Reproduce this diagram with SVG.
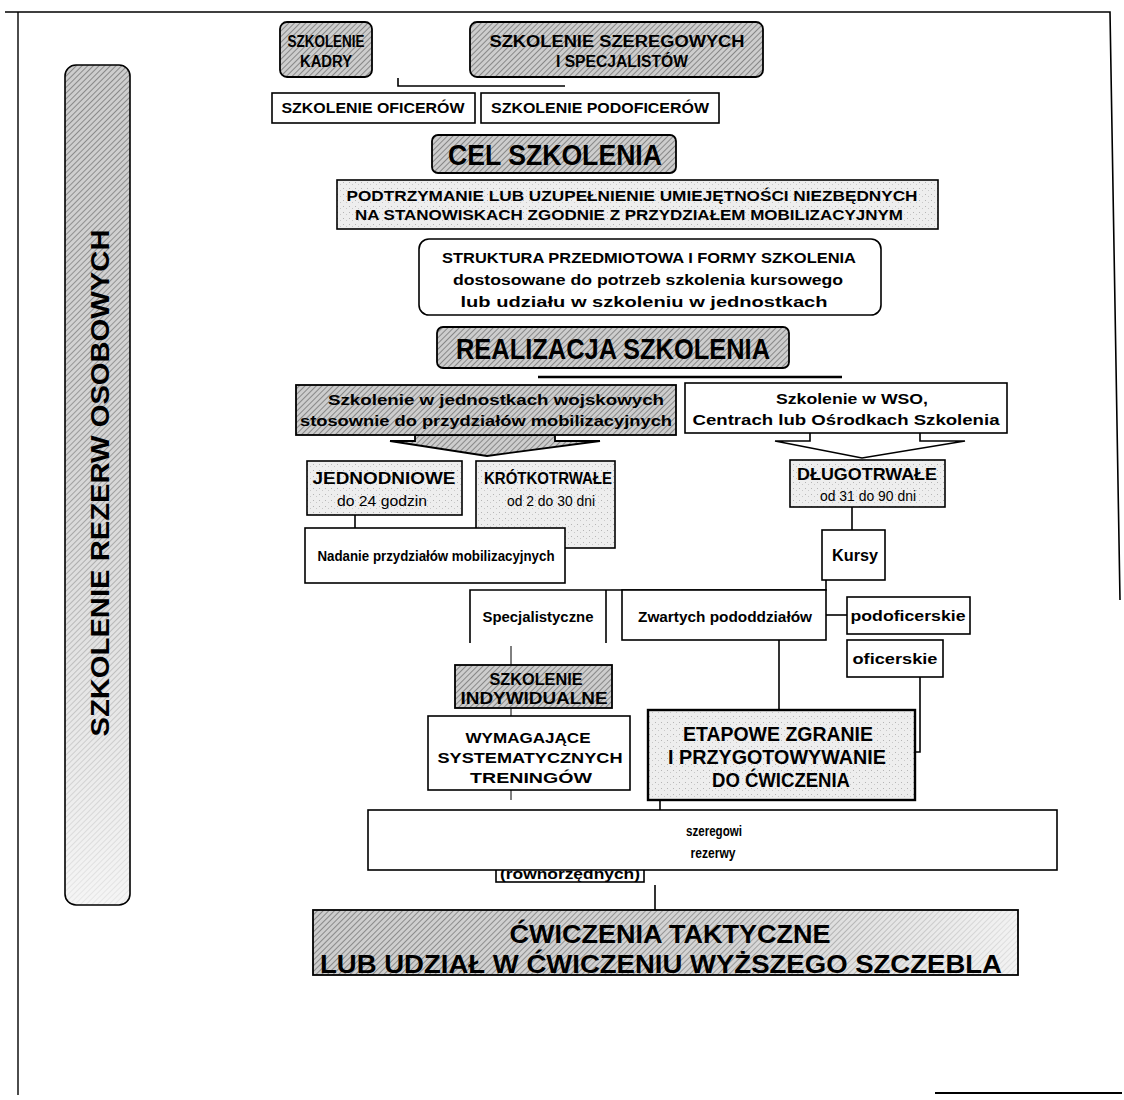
<svg xmlns="http://www.w3.org/2000/svg" width="1124" height="1100" viewBox="0 0 1124 1100">
<defs>
<pattern id="hatch" width="4" height="4" patternUnits="userSpaceOnUse" patternTransform="rotate(45)">
<rect width="4" height="4" fill="#cdcdcd"/>
<line x1="0" y1="0" x2="0" y2="4" stroke="#6a6a6a" stroke-width="1.4"/>
</pattern>
<pattern id="speckle" width="6" height="6" patternUnits="userSpaceOnUse">
<rect width="6" height="6" fill="#eeeeee"/>
<rect x="1" y="2" width="1" height="1" fill="#b5b5b5"/>
<rect x="4" y="4" width="1" height="1" fill="#c8c8c8"/>
</pattern>
<linearGradient id="sideFade" x1="0" y1="0" x2="0" y2="1">
<stop offset="0" stop-color="#fff" stop-opacity="0"/>
<stop offset="0.45" stop-color="#fff" stop-opacity="0.15"/>
<stop offset="1" stop-color="#fff" stop-opacity="0.8"/>
</linearGradient>
<linearGradient id="bottomFade" x1="0" y1="0" x2="1" y2="0">
<stop offset="0" stop-color="#fff" stop-opacity="0"/>
<stop offset="0.6" stop-color="#fff" stop-opacity="0.15"/>
<stop offset="1" stop-color="#fff" stop-opacity="0.75"/>
</linearGradient>
<style>
.t{font-family:"Liberation Sans",Arial,sans-serif;font-weight:bold;fill:#000;text-anchor:middle}
.n{font-family:"Liberation Sans",Arial,sans-serif;font-weight:normal;fill:#000;text-anchor:middle}
.wb{fill:#fff;stroke:#000;stroke-width:1.6}
.hb{fill:url(#hatch);stroke:#000;stroke-width:1.8}
.sb{fill:url(#speckle);stroke:#000;stroke-width:1.6}
.conn line,.conn path{stroke:#000;stroke-width:1.6;fill:none}
</style>
</defs>
<rect width="1124" height="1100" fill="#fff"/>
<g id="frame" fill="none" stroke="#000">
<path d="M5,12 H1110 L1120,600" stroke-width="1.6"/>
<line x1="18" y1="12" x2="18" y2="1095" stroke-width="1.4"/>
<line x1="935" y1="1093" x2="1122" y2="1093" stroke-width="2"/>
</g>
<g id="side">
<rect x="65" y="65" width="65" height="840" rx="11" fill="url(#hatch)"/>
<rect x="65" y="65" width="65" height="840" rx="11" fill="url(#sideFade)" stroke="#000" stroke-width="1.6"/>
<text class="t" font-size="25" transform="translate(109,483) rotate(-90)" textLength="507" lengthAdjust="spacingAndGlyphs">SZKOLENIE REZERW OSOBOWYCH</text>
</g>
<g class="conn">
<path d="M398,78 V86 H565" stroke-width="2.4"/>
<line x1="538" y1="377" x2="842" y2="377" style="stroke-width:2.4"/>
<line x1="355" y1="515" x2="355" y2="528"/>
<line x1="545" y1="553" x2="545" y2="568"/>
<line x1="852" y1="507" x2="852" y2="530"/>
<path d="M826,580 V590 H470 V643"/>
<path d="M606,590 V643"/>
<line x1="826" y1="615" x2="847" y2="615"/>
<line x1="779" y1="640" x2="779" y2="710"/>
<path d="M920,677 V752 H915"/>
<line x1="511" y1="646" x2="511" y2="665" style="stroke-width:1"/>
<line x1="511" y1="708" x2="511" y2="716" style="stroke-width:1"/>
<line x1="511" y1="790" x2="511" y2="800" style="stroke-width:1"/>
<line x1="660" y1="800" x2="660" y2="810"/>
<line x1="655" y1="885" x2="655" y2="910"/>
</g>
<g id="kadry">
<rect class="hb" x="280" y="22" width="92" height="55" rx="7"/>
<text class="t" font-size="16" x="326" y="47" textLength="77" lengthAdjust="spacingAndGlyphs">SZKOLENIE</text>
<text class="t" font-size="16" x="326" y="67" textLength="52" lengthAdjust="spacingAndGlyphs">KADRY</text>
</g>
<g id="szeregowych">
<rect class="hb" x="470" y="22" width="293" height="55" rx="7"/>
<text class="t" font-size="16" x="617" y="47" textLength="255" lengthAdjust="spacingAndGlyphs">SZKOLENIE SZEREGOWYCH</text>
<text class="t" font-size="16" x="622" y="67" textLength="132" lengthAdjust="spacingAndGlyphs">I SPECJALISTÓW</text>
</g>
<g id="oficerow">
<rect class="wb" x="272" y="93" width="203" height="30"/>
<text class="t" font-size="14" x="373" y="113" textLength="183" lengthAdjust="spacingAndGlyphs">SZKOLENIE OFICERÓW</text>
</g>
<g id="podoficerow">
<rect class="wb" x="481" y="93" width="238" height="30"/>
<text class="t" font-size="14" x="600" y="113" textLength="218" lengthAdjust="spacingAndGlyphs">SZKOLENIE PODOFICERÓW</text>
</g>
<g id="cel">
<rect class="hb" x="432" y="135" width="244" height="38" rx="6"/>
<text class="t" font-size="29" x="555" y="165" textLength="214" lengthAdjust="spacingAndGlyphs">CEL SZKOLENIA</text>
</g>
<g id="podtrzymanie">
<rect class="sb" x="337" y="180" width="601" height="49"/>
<text class="t" font-size="14" x="632" y="201" textLength="571" lengthAdjust="spacingAndGlyphs">PODTRZYMANIE LUB UZUPEŁNIENIE UMIEJĘTNOŚCI NIEZBĘDNYCH</text>
<text class="t" font-size="14" x="629" y="220" textLength="548" lengthAdjust="spacingAndGlyphs">NA STANOWISKACH ZGODNIE Z PRZYDZIAŁEM MOBILIZACYJNYM</text>
</g>
<g id="struktura">
<rect class="wb" x="419" y="239" width="462" height="76" rx="10"/>
<text class="t" font-size="15.5" x="649" y="263" textLength="414" lengthAdjust="spacingAndGlyphs">STRUKTURA PRZEDMIOTOWA I FORMY SZKOLENIA</text>
<text class="t" font-size="15.5" x="648" y="285" textLength="390" lengthAdjust="spacingAndGlyphs">dostosowane do potrzeb szkolenia kursowego</text>
<text class="t" font-size="15.5" x="644" y="307" textLength="367" lengthAdjust="spacingAndGlyphs">lub udziału w szkoleniu w jednostkach</text>
</g>
<g id="realizacja">
<rect class="hb" x="437" y="327" width="352" height="41" rx="6"/>
<text class="t" font-size="30" x="613" y="359" textLength="314" lengthAdjust="spacingAndGlyphs">REALIZACJA SZKOLENIA</text>
</g>
<g id="jednostki">
<path class="hb" d="M415,435 V441 H390 L487,456 L600,441 H555 V435 Z"/>
<rect class="hb" x="296" y="385" width="380" height="50"/>
<text class="t" font-size="15" x="496" y="405" textLength="336" lengthAdjust="spacingAndGlyphs">Szkolenie w jednostkach wojskowych</text>
<text class="t" font-size="15" x="486" y="426" textLength="372" lengthAdjust="spacingAndGlyphs">stosownie do przydziałów mobilizacyjnych</text>
</g>
<g id="wso">
<path class="wb" d="M810,433 V441 H775 L862,458 L965,441 H920 V433"/>
<rect class="wb" x="685" y="383" width="322" height="50"/>
<text class="t" font-size="15" x="852" y="404" textLength="152" lengthAdjust="spacingAndGlyphs">Szkolenie w WSO,</text>
<text class="t" font-size="15" x="846" y="425" textLength="307" lengthAdjust="spacingAndGlyphs">Centrach lub Ośrodkach Szkolenia</text>
</g>
<g id="krotkotrwale">
<rect class="sb" x="476" y="461" width="139" height="87"/>
<text class="t" font-size="16.5" x="548" y="484" textLength="128" lengthAdjust="spacingAndGlyphs">KRÓTKOTRWAŁE</text>
<text class="n" font-size="15" x="551" y="506" textLength="88" lengthAdjust="spacingAndGlyphs">od 2 do 30 dni</text>
</g>
<g id="jednodniowe">
<rect class="sb" x="307" y="461" width="155" height="54"/>
<text class="t" font-size="16.5" x="384" y="484" textLength="143" lengthAdjust="spacingAndGlyphs">JEDNODNIOWE</text>
<text class="n" font-size="15" x="382" y="506" textLength="90" lengthAdjust="spacingAndGlyphs">do 24 godzin</text>
</g>
<g id="dlugotrwale">
<rect class="sb" x="790" y="460" width="155" height="47"/>
<text class="t" font-size="16.5" x="867" y="480" textLength="140" lengthAdjust="spacingAndGlyphs">DŁUGOTRWAŁE</text>
<text class="n" font-size="15" x="868" y="501" textLength="96" lengthAdjust="spacingAndGlyphs">od 31 do 90 dni</text>
</g>
<g id="nadanie">
<rect class="wb" x="305" y="528" width="260" height="55"/>
<text class="t" font-size="14" x="436" y="561" textLength="237" lengthAdjust="spacingAndGlyphs">Nadanie przydziałów mobilizacyjnych</text>
</g>
<g id="kursy">
<rect class="wb" x="822" y="530" width="63" height="50"/>
<text class="t" font-size="16" x="855" y="561" textLength="46" lengthAdjust="spacingAndGlyphs">Kursy</text>
</g>
<g id="specjalistyczne">
<text class="t" font-size="14" x="538" y="622" textLength="111" lengthAdjust="spacingAndGlyphs">Specjalistyczne</text>
</g>
<g id="zwartych">
<rect class="wb" x="622" y="590" width="204" height="50"/>
<text class="t" font-size="14" x="725" y="622" textLength="174" lengthAdjust="spacingAndGlyphs">Zwartych  pododdziałów</text>
</g>
<g id="podoficerskie">
<rect class="wb" x="847" y="597" width="123" height="37"/>
<text class="t" font-size="15.5" x="908" y="621" textLength="115" lengthAdjust="spacingAndGlyphs">podoficerskie</text>
</g>
<g id="oficerskie">
<rect class="wb" x="847" y="640" width="96" height="37"/>
<text class="t" font-size="15.5" x="895" y="664" textLength="85" lengthAdjust="spacingAndGlyphs">oficerskie</text>
</g>
<g id="indywidualne">
<rect class="hb" x="455" y="665" width="157" height="43"/>
<text class="t" font-size="16" x="536" y="685" textLength="93" lengthAdjust="spacingAndGlyphs">SZKOLENIE</text>
<text class="t" font-size="16" x="534" y="704" textLength="147" lengthAdjust="spacingAndGlyphs">INDYWIDUALNE</text>
</g>
<g id="wymagajace">
<rect class="wb" x="428" y="716" width="202" height="74"/>
<text class="t" font-size="15.5" x="528" y="743" textLength="125" lengthAdjust="spacingAndGlyphs">WYMAGAJĄCE</text>
<text class="t" font-size="15.5" x="530" y="763" textLength="185" lengthAdjust="spacingAndGlyphs">SYSTEMATYCZNYCH</text>
<text class="t" font-size="15.5" x="531" y="783" textLength="122" lengthAdjust="spacingAndGlyphs">TRENINGÓW</text>
</g>
<g id="etapowe">
<rect class="sb" x="648" y="710" width="267" height="90" style="stroke-width:2.4"/>
<text class="t" font-size="19.5" x="778" y="741" textLength="190" lengthAdjust="spacingAndGlyphs">ETAPOWE ZGRANIE</text>
<text class="t" font-size="19.5" x="777" y="764" textLength="218" lengthAdjust="spacingAndGlyphs">I PRZYGOTOWYWANIE</text>
<text class="t" font-size="19.5" x="781" y="787" textLength="138" lengthAdjust="spacingAndGlyphs">DO ĆWICZENIA</text>
</g>
<g id="rownorzednych">
<rect class="wb" x="496" y="850" width="148" height="32"/>
<text class="t" font-size="15" x="570" y="879" textLength="140" lengthAdjust="spacingAndGlyphs">(równorzędnych)</text>
</g>
<g id="szeregowi">
<rect class="wb" x="368" y="810" width="689" height="60"/>
<text class="t" font-size="14" x="714" y="836" textLength="56" lengthAdjust="spacingAndGlyphs">szeregowi</text>
<text class="t" font-size="14" x="713" y="858" textLength="45" lengthAdjust="spacingAndGlyphs">rezerwy</text>
</g>
<g id="cwiczenia">
<rect x="313" y="910" width="705" height="65" fill="url(#hatch)"/>
<rect x="313" y="910" width="705" height="65" fill="url(#bottomFade)" stroke="#000" stroke-width="1.8"/>
<text class="t" font-size="25" x="670" y="943" textLength="321" lengthAdjust="spacingAndGlyphs">ĆWICZENIA TAKTYCZNE</text>
<text class="t" font-size="26" x="661" y="973" textLength="682" lengthAdjust="spacingAndGlyphs">LUB UDZIAŁ W ĆWICZENIU WYŻSZEGO SZCZEBLA</text>
</g>
</svg>
